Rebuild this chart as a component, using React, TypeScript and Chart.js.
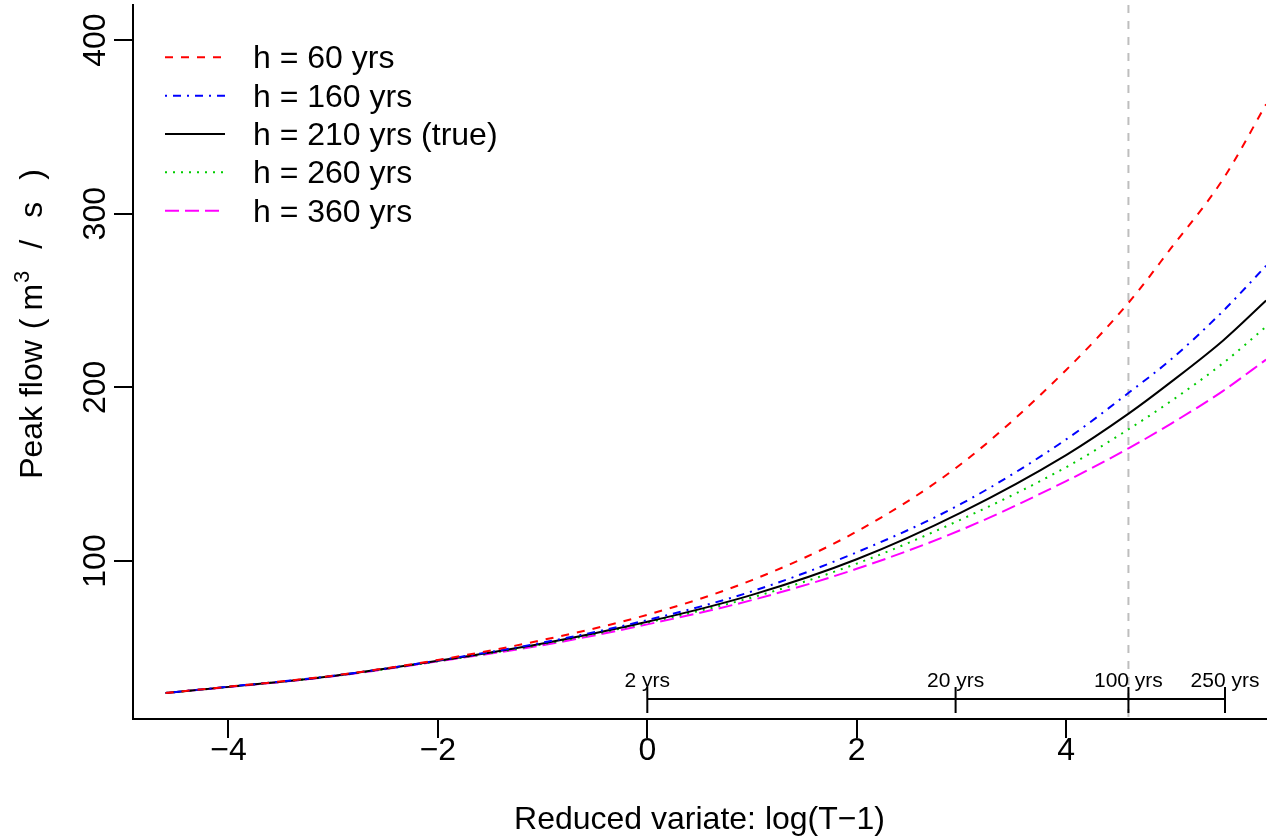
import React, { useEffect, useRef } from "react";
import { Chart, registerables } from "chart.js";

Chart.register(...registerables);

// Reduced variate log(T-1)
const xValues = [-4.6, -4, -3, -2, -1, 0, 1, 2, 3, 4, 4.6, 5, 5.5, 5.91];
// Peak flow (m3/s) per series
const h60 = [24, 27.6, 34, 43, 54.5, 69, 89, 117, 156, 210, 249, 280, 320, 363];
const h160 = [24, 27.6, 33.9, 42.7, 53, 66, 82.5, 105, 133, 170, 197, 216, 244, 270];
const h210 = [24, 27.5, 33.8, 42.5, 52.5, 65, 80.5, 101, 128, 161, 185, 203, 227, 250];
const h260 = [24, 27.5, 33.7, 42.3, 52, 64.5, 79, 98.5, 124, 154, 176, 192, 214, 235];
const h360 = [24, 27.4, 33.6, 42.2, 51.5, 63.5, 77.5, 95.5, 118, 146, 165, 179, 198, 216];

const seriesLabels = ["h = 60 yrs", "h = 160 yrs", "h = 210 yrs (true)", "h = 260 yrs", "h = 360 yrs"];
const seriesColors = ["#FF0000", "#0000FF", "#000000", "#00CD00", "#FF00FF"];
const seriesDashes: number[][] = [[8, 8], [2, 6, 8, 6], [], [2, 6], [14, 6]];
const seriesValues = [h60, h160, h210, h260, h360];

const xTicks = [-4, -2, 0, 2, 4];
const yTicks = [100, 200, 300, 400];
const xRange = [-4.912, 5.909];
const yRange = [9.0, 420.2];

// Return-period scale drawn inside the plot
const returnPeriods = [2, 20, 100, 250];
const returnLabels = ["2 yrs", "20 yrs", "100 yrs", "250 yrs"];
const rpLineY = 20.5;
const rpTickTop = 27.5;
const rpTickBottom = 12.5;
const refPeriod = 100; // vertical reference line at T = 100

const FONT = '"Liberation Sans", Arial, Helvetica, sans-serif';

const rPlotPlugin = {
  id: "rPlot",
  beforeDatasetsDraw(chart: any) {
    const { ctx, chartArea, scales } = chart;
    const x = scales.x;
    const px = x.getPixelForValue(Math.log(refPeriod - 1));
    ctx.save();
    ctx.strokeStyle = "#BEBEBE";
    ctx.lineWidth = 2;
    ctx.setLineDash([8, 8]);
    ctx.beginPath();
    ctx.moveTo(px, chartArea.top);
    ctx.lineTo(px, chartArea.bottom);
    ctx.stroke();
    ctx.restore();
  },
  afterDatasetsDraw(chart: any) {
    const { ctx, scales } = chart;
    const x = scales.x;
    const y = scales.y;
    ctx.save();
    ctx.strokeStyle = "#000";
    ctx.lineWidth = 2;
    ctx.setLineDash([]);
    const xs = returnPeriods.map((t) => x.getPixelForValue(Math.log(t - 1)));
    const ly = y.getPixelForValue(rpLineY);
    ctx.beginPath();
    ctx.moveTo(xs[0], ly);
    ctx.lineTo(xs[xs.length - 1], ly);
    xs.forEach((p) => {
      ctx.moveTo(p, y.getPixelForValue(rpTickTop));
      ctx.lineTo(p, y.getPixelForValue(rpTickBottom));
    });
    ctx.stroke();
    ctx.fillStyle = "#000";
    ctx.font = `21px ${FONT}`;
    ctx.textAlign = "center";
    ctx.textBaseline = "alphabetic";
    const ty = y.getPixelForValue(rpTickTop);
    xs.forEach((p, i) => ctx.fillText(returnLabels[i], p, ty + 0.5));
    ctx.restore();
  },
  afterDraw(chart: any) {
    const { ctx, chartArea, scales } = chart;
    const x = scales.x;
    const y = scales.y;
    ctx.save();
    ctx.fillStyle = "#000";
    ctx.font = `32px ${FONT}`;
    ctx.textAlign = "center";
    ctx.textBaseline = "alphabetic";
    // x tick labels
    xTicks.forEach((v) => {
      const s = v < 0 ? "\u2212" + Math.abs(v) : String(v);
      ctx.fillText(s, x.getPixelForValue(v), chartArea.bottom + 41);
    });
    // x title
    ctx.fillText("Reduced variate: log(T\u22121)", (chartArea.left + chartArea.right) / 2, chartArea.bottom + 110);
    // y tick labels (rotated)
    yTicks.forEach((v) => {
      ctx.save();
      ctx.translate(chartArea.left - 28, y.getPixelForValue(v));
      ctx.rotate(-Math.PI / 2);
      ctx.fillText(String(v), 0, 0);
      ctx.restore();
    });
    // y title with superscript (plotmath-like spacing)
    ctx.save();
    ctx.translate(42, (chartArea.top + chartArea.bottom) / 2 - 38);
    ctx.rotate(-Math.PI / 2);
    const parts: { t: string; sup?: boolean; gap: number }[] = [
      { t: "Peak flow ", gap: 2 },
      { t: "(", gap: 8 },
      { t: "m", gap: 1 },
      { t: "3", sup: true, gap: 22 },
      { t: "/", gap: 22 },
      { t: "s", gap: 22 },
      { t: ")", gap: 0 },
    ];
    const widths = parts.map((p) => {
      ctx.font = p.sup ? `22px ${FONT}` : `32px ${FONT}`;
      return ctx.measureText(p.t).width;
    });
    const total = widths.reduce((a, b) => a + b, 0) + parts.reduce((a, p) => a + p.gap, 0);
    let cx = -total / 2;
    ctx.textAlign = "left";
    parts.forEach((p, i) => {
      ctx.font = p.sup ? `22px ${FONT}` : `32px ${FONT}`;
      ctx.fillText(p.t, cx, p.sup ? -13 : 0);
      cx += widths[i] + p.gap;
    });
    ctx.restore();

    // legend
    const lx0 = chartArea.left + 32;
    const lx1 = chartArea.left + 92;
    const tx = chartArea.left + 120;
    const rowY0 = chartArea.top + 52.3;
    const rowStep = 38.35;
    ctx.textAlign = "left";
    ctx.font = `32px ${FONT}`;
    seriesLabels.forEach((lab, i) => {
      const ry = rowY0 + i * rowStep;
      ctx.strokeStyle = seriesColors[i];
      ctx.lineWidth = 2;
      ctx.setLineDash(seriesDashes[i]);
      ctx.beginPath();
      ctx.moveTo(lx0, ry);
      ctx.lineTo(lx1, ry);
      ctx.stroke();
      ctx.setLineDash([]);
      ctx.fillText(lab, tx, ry + 11);
    });
    ctx.restore();
  },
};

export default function App() {
  const ref = useRef<HTMLCanvasElement | null>(null);
  useEffect(() => {
    if (!ref.current) return;
    const datasets = seriesValues.map((vals, i) => ({
      label: seriesLabels[i],
      data: xValues.map((xv, j) => ({ x: xv, y: vals[j] })),
      borderColor: seriesColors[i],
      borderWidth: 2,
      borderDash: seriesDashes[i],
      pointRadius: 0,
      fill: false,
      cubicInterpolationMode: "monotone" as const,
    }));
    const chart = new Chart(ref.current, {
      type: "line",
      data: { datasets },
      options: {
        animation: false,
        responsive: false,
        devicePixelRatio: 1,
        layout: { padding: { top: 5, right: 6, left: 0, bottom: 0 } },
        plugins: { legend: { display: false }, tooltip: { enabled: false } },
        scales: {
          x: {
            type: "linear",
            min: xRange[0],
            max: xRange[1],
            afterBuildTicks: (s: any) => {
              s.ticks = xTicks.map((v) => ({ value: v }));
            },
            afterFit: (s: any) => {
              s.height = 117;
            },
            ticks: { display: false },
            grid: { drawOnChartArea: false, drawTicks: true, tickLength: 19, color: "#000", lineWidth: 2 },
            border: { display: true, color: "#000", width: 2 },
          },
          y: {
            type: "linear",
            min: yRange[0],
            max: yRange[1],
            afterBuildTicks: (s: any) => {
              s.ticks = yTicks.map((v) => ({ value: v }));
            },
            afterFit: (s: any) => {
              s.width = 133;
            },
            ticks: { display: false },
            grid: { drawOnChartArea: false, drawTicks: true, tickLength: 19, color: "#000", lineWidth: 2 },
            border: { display: true, color: "#000", width: 2 },
          },
        },
      },
      plugins: [rPlotPlugin],
    });
    return () => chart.destroy();
  }, []);
  return (
    <div style={{ position: "fixed", left: 0, top: 0, width: 1272, height: 836, background: "#fff" }}>
      <canvas ref={ref} width={1272} height={836} style={{ width: 1272, height: 836, display: "block" }} />
    </div>
  );
}
